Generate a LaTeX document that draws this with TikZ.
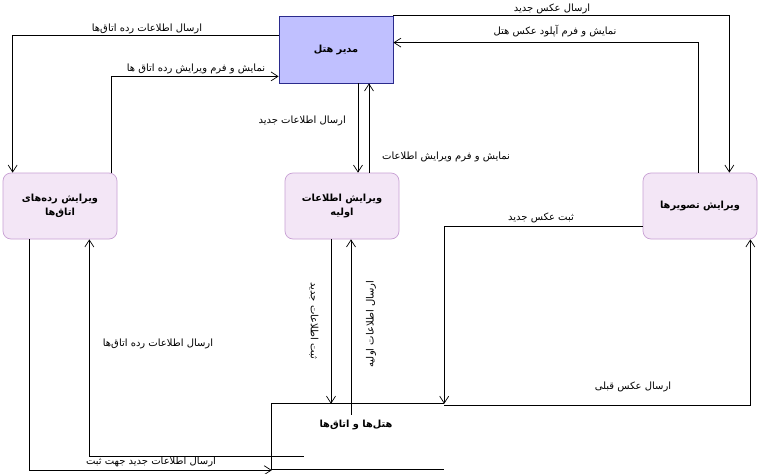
\documentclass[tikz,border=0pt]{standalone}
\usepackage{fontspec}
\TeXXeTstate=1
\newfontfamily\fa[Script=Arabic]{DejaVu Sans}
\usetikzlibrary{arrows.meta,calc}
\definecolor{mgrfill}{HTML}{C0C0FF}
\definecolor{mgrdraw}{HTML}{2A2A8C}
\definecolor{procfill}{HTML}{F3E6F6}
\definecolor{procdraw}{HTML}{C8A0D4}
\tikzset{
  entity/.style={draw=mgrdraw, fill=mgrfill, line width=0.8pt, minimum width=114pt, minimum height=67pt, inner sep=0pt, font=\fa\bfseries\fontsize{9.8}{11}\selectfont},
  proc/.style={draw=procdraw, fill=procfill, rounded corners=8pt, line width=0.7pt, minimum width=114pt, minimum height=66pt, inner sep=0pt, align=center, font=\fa\bfseries\fontsize{9.8}{14}\selectfont},
  store/.style={minimum width=172pt, minimum height=65pt, inner sep=0pt},
  storename/.style={font=\fa\bfseries\fontsize{9.8}{11}\selectfont, inner sep=0pt},
  storeline/.style={draw, line width=0.7pt},
  flow/.style={draw, line width=0.7pt, -{Straight Barb[length=7pt,width=9pt,line width=0.7pt]}},
  lbl/.style={font=\fa\fontsize{10}{11}\selectfont, inner sep=0pt}
}
\begin{document}
\begin{tikzpicture}[x=1pt,y=-1pt]
\fill[white] (0,0) rectangle (761,474);
\useasboundingbox (0,0) rectangle (761,474);

% nodes
\node[entity] (M) at (336,49.5) {\beginR مدیر هتل\endR};
\node[proc] (L) at (60,206) {\beginR ویرایش رده‌های\endR\\\beginR اتاق‌ها\endR};
\node[proc] (C) at (342,206) {\beginR ویرایش اطلاعات\endR\\\beginR اولیه\endR};
\node[proc] (R) at (700,206) {\beginR ویرایش تصویرها\endR};
\node[store] (S) at (358,436.5) {};
\node[storename] (SN) at (356,425) {\beginR هتل‌ها و اتاق‌ها\endR};
\draw[storeline] (S.north east) -- (S.north west) -- (S.south west) -- (S.south east);

% connectors
\draw[flow] ([yshift=-20pt]M.north west) -| ([xshift=10pt]L.north west);
\draw[flow] ([xshift=-6pt]L.north east) |- ([yshift=7pt]M.south west);
\draw[flow] ([xshift=22pt]M.south) -- ([xshift=16pt]C.north);
\draw[flow] ([xshift=27pt]C.north) -- ([xshift=33pt]M.south);
\draw[flow] (M.north east) -| ([xshift=-28pt]R.north east);
\draw[flow] ([xshift=56pt]R.north west) |- ([yshift=-27pt]M.north east);
\draw[flow] ([xshift=-11pt]C.south) -- ([xshift=-27pt]S.north);
\draw[flow] ([xshift=-7pt,yshift=-11pt]S.north) -- ([xshift=9pt]C.south);
\draw[flow] ([xshift=27pt]L.south west) |- ([yshift=-1pt]S.south west);
\draw[flow] ([xshift=32pt,yshift=13pt]S.south west) -| ([xshift=-28pt]L.south east);
\draw[flow] ([yshift=13pt]R.south west) -| (S.north east);
\draw[flow] ([yshift=-2pt]S.north east) -| ([xshift=-7pt]R.south east);

% labels
\node[lbl] (l1) at (147,29) {\beginR ارسال اطلاعات رده اتاق‌ها\endR};
\node[lbl] (l2) at (196,69) {\beginR نمایش و فرم ویرایش رده اتاق ها\endR};
\node[lbl, anchor=east] (l3) at (346,121) {\beginR ارسال اطلاعات جدید\endR};
\node[lbl, anchor=west] (l4) at (382,157) {\beginR نمایش و فرم ویرایش اطلاعات\endR};
\node[lbl] (l5) at (552,9) {\beginR ارسال عکس جدید\endR};
\node[lbl] (l6) at (555,31) {\beginR نمایش و فرم آپلود عکس هتل\endR};
\node[lbl, rotate=-90] (l7) at (314,321) {\beginR ثبت اطلاعات جدید\endR};
\node[lbl, rotate=90] (l8) at (371,324) {\beginR ارسال اطلاعات اولیه\endR};
\node[lbl] (l9) at (151,462) {\beginR ارسال اطلاعات جدید جهت ثبت\endR};
\node[lbl] (l10) at (158,344) {\beginR ارسال اطلاعات رده اتاق‌ها\endR};
\node[lbl] (l11) at (541,218) {\beginR ثبت عکس جدید\endR};
\node[lbl] (l12) at (633,387) {\beginR ارسال عکس قبلی\endR};
\end{tikzpicture}
\end{document}
